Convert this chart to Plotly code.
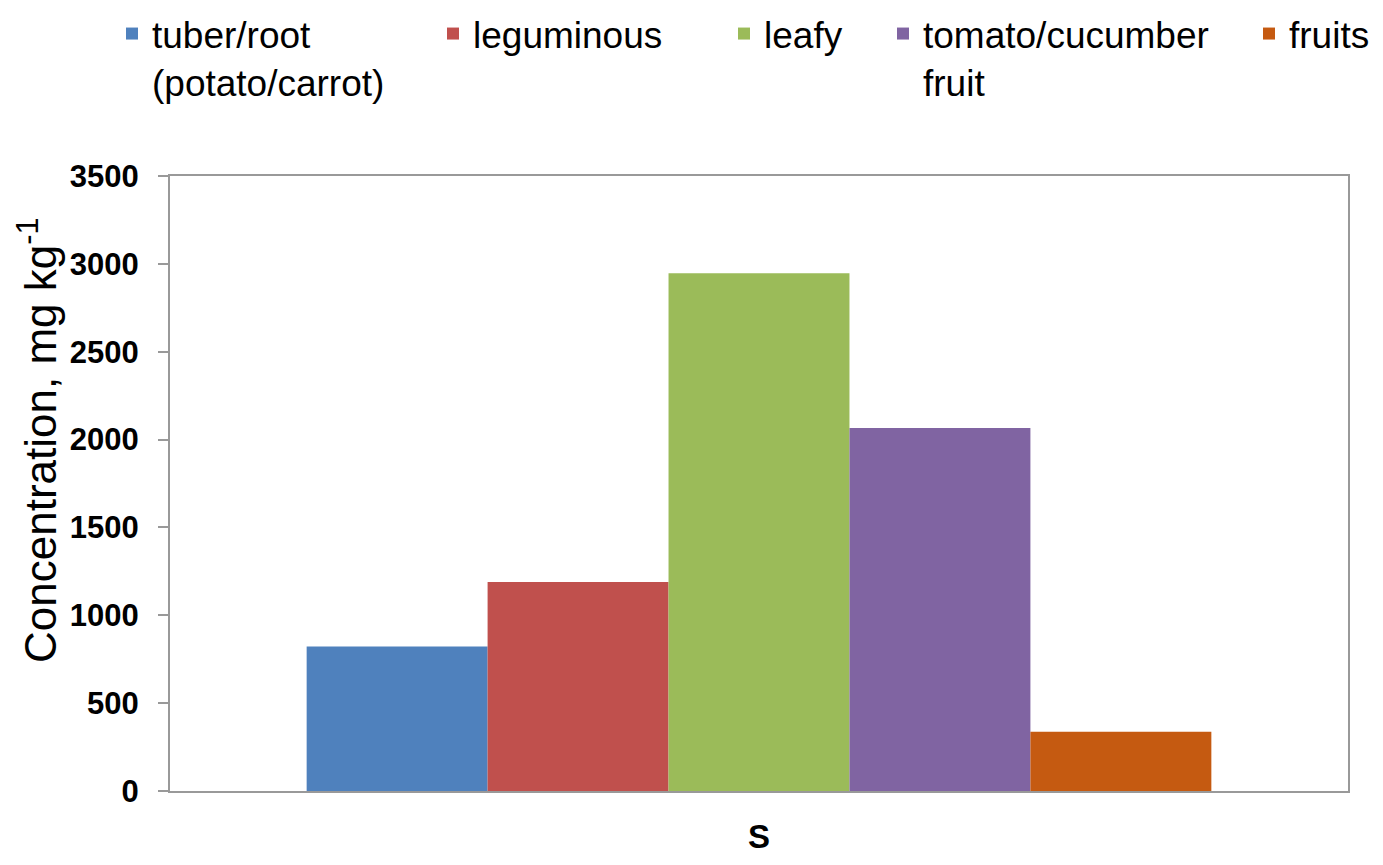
import plotly.graph_objects as go

categories = ["S"]
series_names = ["tuber/root<br>(potato/carrot)", "leguminous", "leafy",
                "tomato/cucumber<br>fruit", "fruits"]
series_values = [[822], [1190], [2947], [2066], [337]]
series_colors = ["#4F81BD", "#C0504D", "#9BBB59", "#8064A2", "#C55A11"]
y_ticks = [0, 500, 1000, 1500, 2000, 2500, 3000, 3500]
y_title = "Concentration, mg kg<sup>-1</sup>"

FONT = "Liberation Sans, Arial, sans-serif"
# page body has an 8px margin, so the figure is slightly smaller than the window
W, H = 1367, 849
ML, MR, MT, MB = 162, 27, 168, 66
PW = W - ML - MR
PH = H - MT - MB

# legend box-left pixel positions within the figure (layout only)
legend_px = [104, 425, 716, 875, 1241]
legend_top = -5

fig = go.Figure()
legend_ids = ["legend", "legend2", "legend3", "legend4", "legend5"]
for name, vals, col, lid in zip(series_names, series_values, series_colors, legend_ids):
    fig.add_trace(go.Bar(x=categories, y=vals, name=name, showlegend=True,
                         marker=dict(color=col, line=dict(width=0)),
                         legend=lid))

layout_legends = {}
for lid, px in zip(legend_ids, legend_px):
    layout_legends[lid] = dict(
        xref="paper", yref="paper",
        x=(px - ML) / PW, xanchor="left",
        y=(H - MB - legend_top) / PH, yanchor="top",
        orientation="h", valign="top",
        bgcolor="rgba(0,0,0,0)", borderwidth=0,
        font=dict(family=FONT, size=37, color="black"),
        visible=True,
    )

fig.update_layout(
    width=W, height=H,
    margin=dict(l=ML, r=MR, t=MT, b=MB, autoexpand=False),
    paper_bgcolor="white", plot_bgcolor="white",
    barmode="group", bargap=0.232, bargroupgap=0,
    showlegend=True,
    **layout_legends,
)

fig.add_annotation(
    text=y_title, textangle=-90, showarrow=False,
    xref="paper", yref="paper",
    x=(29 - ML) / PW, y=(H - MB - 432) / PH,
    xanchor="center", yanchor="middle",
    font=dict(family=FONT, size=44, color="black"),
)

fig.update_yaxes(
    range=[0, 3500], tickvals=y_ticks, ticktext=[str(v) for v in y_ticks],
    showgrid=False, zeroline=False, automargin=False,
    showline=True, linecolor="#999999", linewidth=2, mirror=True,
    ticks="outside", ticklen=10, tickwidth=2, tickcolor="#999999",
    ticklabelstandoff=13,
    tickfont=dict(family=FONT, size=31, color="black", weight="bold"),
)
fig.update_xaxes(
    showgrid=False, zeroline=False, automargin=False,
    showline=True, linecolor="#999999", linewidth=2, mirror=True,
    ticks="", ticklabelstandoff=15,
    tickfont=dict(family=FONT, size=33, color="black", weight="bold"),
)

fig.write_html("out.html")
